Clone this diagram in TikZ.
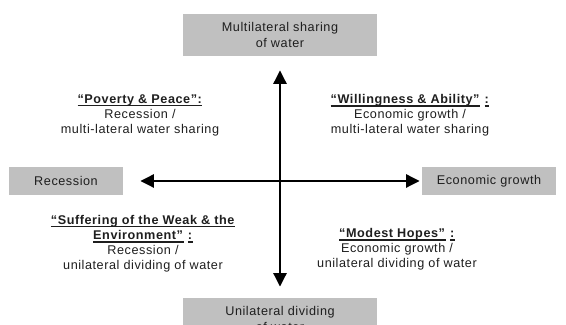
\documentclass[tikz,border=0pt]{standalone}
\usepackage{fontspec}
\setmainfont[LetterSpace=4.4]{Liberation Sans}
\usetikzlibrary{arrows.meta}

\definecolor{boxgray}{HTML}{C0C0C0}
\definecolor{inkgray}{HTML}{1E1E1E}
% underline sitting just under the baseline
\newcommand{\titleline}[1]{\setbox0\hbox{\textbf{#1}}\rlap{\rule[-2.4pt]{\wd0}{0.9pt}}\box0}

\tikzset{
  pole/.style={fill=boxgray, text=inkgray, align=center, inner sep=0pt,
    font=\fontsize{9}{10.7}\selectfont},
  scenario/.style={text=inkgray, align=center, inner sep=0pt,
    font=\fontsize{9}{10.7}\selectfont},
  axisarrow/.style={draw, line width=2.1pt, {Triangle[length=0.34cm,width=0.32cm]}-{Triangle[length=0.34cm,width=0.32cm]}}
}

\begin{document}
\begin{tikzpicture}
    \clip (-7,-3.6) rectangle (7.15,4.525);
    \node[pole, minimum width=4.85cm, minimum height=1.05cm] (multi) at (0,3.65) {Multilateral sharing\\of water};
    \node[pole, minimum width=4.85cm, minimum height=1.05cm] (uni) at (0,-3.45) {Unilateral dividing\\of water};
    \node[pole, minimum width=2.85cm, minimum height=0.7cm] (recession) at (-5.35,0) {Recession};
    \node[pole, minimum width=3.35cm, minimum height=0.7cm] (growth) at (5.225,0) {Economic growth};
    \path[axisarrow] (uni) edge[shorten <=0.275cm, shorten >=0.35cm] (multi);
    \path[axisarrow] (recession) edge[shorten <=0.425cm, shorten >=0.05cm] (growth);
    \node[scenario] (poverty) at (-3.5,1.65) {\titleline{“Poverty \& Peace”:}\\Recession /\\multi-lateral water sharing};
    \node[scenario] (willing) at (3.25,1.65) {\titleline{“Willingness \& Ability”}\hspace{0.35em}\titleline{:}\\Economic growth /\\multi-lateral water sharing};
    \node[scenario] (suffering) at (-3.425,-1.56) {\titleline{“Suffering of the Weak \& the}\\\titleline{Environment”}\hspace{0.35em}\titleline{:}\\Recession /\\unilateral dividing of water};
    \node[scenario] (modest) at (2.925,-1.7) {\titleline{“Modest Hopes”}\hspace{0.35em}\titleline{:}\\Economic growth /\\unilateral dividing of water};
\end{tikzpicture}
\end{document}
